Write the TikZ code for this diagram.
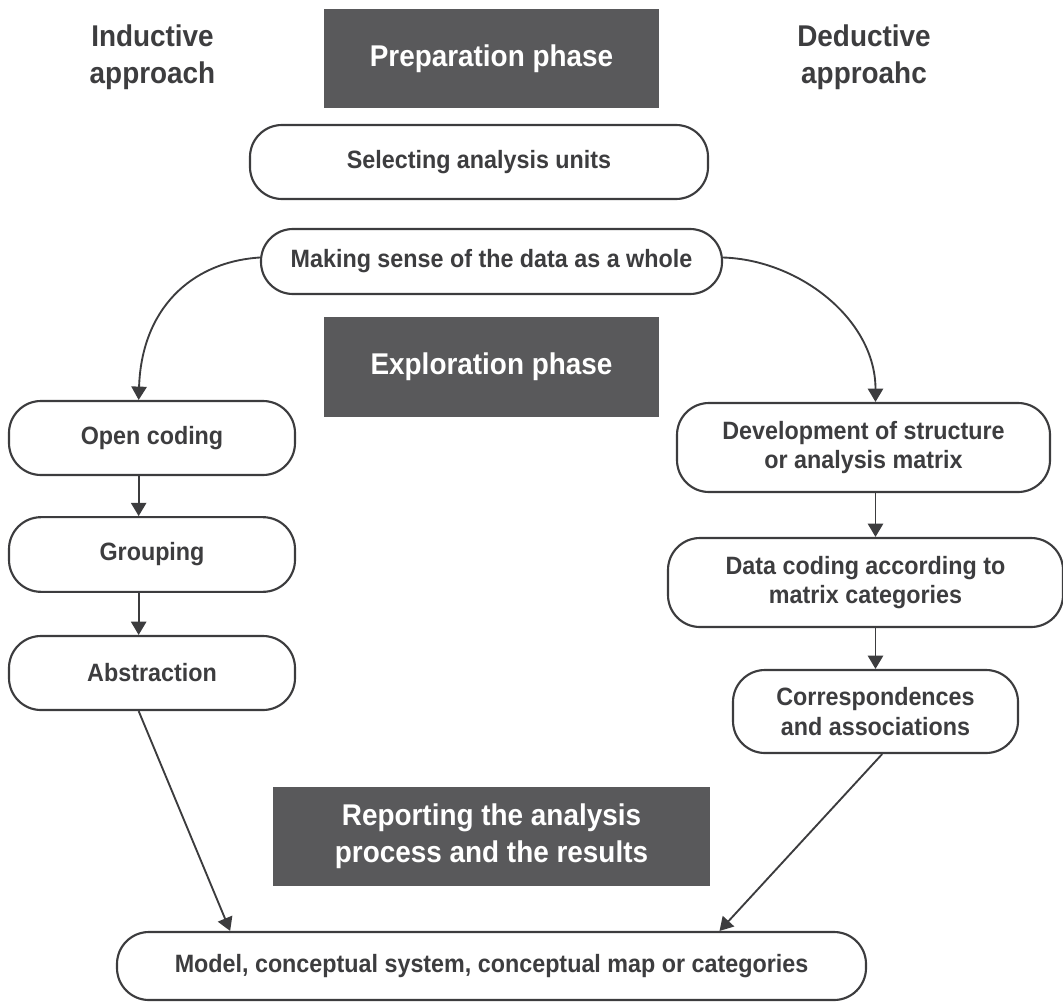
\documentclass[tikz,border=0pt]{standalone}
\usepackage{fontspec}
\setmainfont{Liberation Sans}[FakeStretch=0.93]
\usetikzlibrary{arrows.meta}
\definecolor{phasefill}{HTML}{59595B}
\definecolor{inkline}{HTML}{3C3C3E}
\definecolor{inktext}{HTML}{3D3D3F}
\newcommand\headfont{\bfseries\fontsize{22.5}{27.5}\selectfont}
\newcommand\boxfont{\bfseries\fontsize{18.8}{22}\selectfont}
\begin{document}
\begin{tikzpicture}[x=0.75pt,y=-0.75pt,
  pill/.style={draw=inkline,line width=1.6pt,rounded corners=24pt,fill=white,
    text=inktext,font=\boxfont,align=center,inner sep=0pt},
  phasebox/.style={fill=phasefill,text=white,font=\headfont,align=center,inner sep=0pt},
  headlabel/.style={text=inktext,font=\headfont,align=center,inner sep=0pt},
  arr/.style={draw=inkline,line width=1.4pt,-{Triangle[width=11.5pt,length=10pt]}}]
\useasboundingbox (0,0) rectangle (1063,1003);

% column headings
\node[headlabel] (ind) at (152.5,57) {Inductive\\approach};
\node[headlabel] (ded) at (864,57) {Deductive\\approahc};

% centre column
\node[phasebox,minimum width=251.25pt,minimum height=74.25pt] (prep) at (491.5,58.5) {Preparation phase};
\node[pill,minimum width=343.5pt,minimum height=55.5pt] (sel) at (479,162) {Selecting analysis units};
\node[pill,minimum width=345.75pt,minimum height=48.75pt] (mk) at (491.5,261.5) {Making sense of the data as a whole};
\node[phasebox,minimum width=251.25pt,minimum height=75pt] (expl) at (491.5,367) {Exploration phase};
\node[phasebox,minimum width=327.75pt,minimum height=74.25pt] (rep) at (491.5,836.5) {Reporting the analysis\\process and the results};
\node[pill,minimum width=561.75pt,minimum height=51pt] (model) at (491.5,966) {Model, conceptual system, conceptual map or categories};

% inductive column
\node[pill,minimum width=214.5pt,minimum height=55.5pt] (open) at (152,438) {Open coding};
\node[pill,minimum width=214.5pt,minimum height=56pt] (group) at (152,554.5) {Grouping};
\node[pill,minimum width=214.5pt,minimum height=55.5pt] (abs) at (152,673) {Abstraction};

% deductive column
\node[pill,minimum width=279.75pt,minimum height=66.75pt] (dev) at (863.5,447.5) {Development of structure\\or analysis matrix};
\node[pill,minimum width=296.25pt,minimum height=66.75pt] (dat) at (865.5,582.5) {Data coding according to\\matrix categories};
\node[pill,minimum width=213.75pt,minimum height=62.25pt] (cor) at (875.5,711.5) {Correspondences\\and associations};

% connectors
\draw[arr] ([yshift=3pt]mk.west) .. controls (190,262) and (141.5,310) .. ([xshift=-10pt]open.north);
\draw[arr] ([yshift=3pt]mk.east) .. controls (800,260) and (875.5,320) .. (cor.north |- dev.north);
\draw[arr] ([xshift=-10pt]open.south) -- ([xshift=-10pt]group.north);
\draw[arr] ([xshift=-10pt]group.south) -- ([xshift=-10pt]abs.north);
\draw[arr] (cor.north |- dev.south) -- (cor.north |- dat.north);
\draw[arr] (cor.north |- dat.south) -- (cor.north);
\draw[arr] ([xshift=-10pt]abs.south) -- ([xshift=-196pt]model.north);
\draw[arr] ([xshift=5pt]cor.south) -- ([xshift=171pt]model.north);
\end{tikzpicture}
\end{document}
